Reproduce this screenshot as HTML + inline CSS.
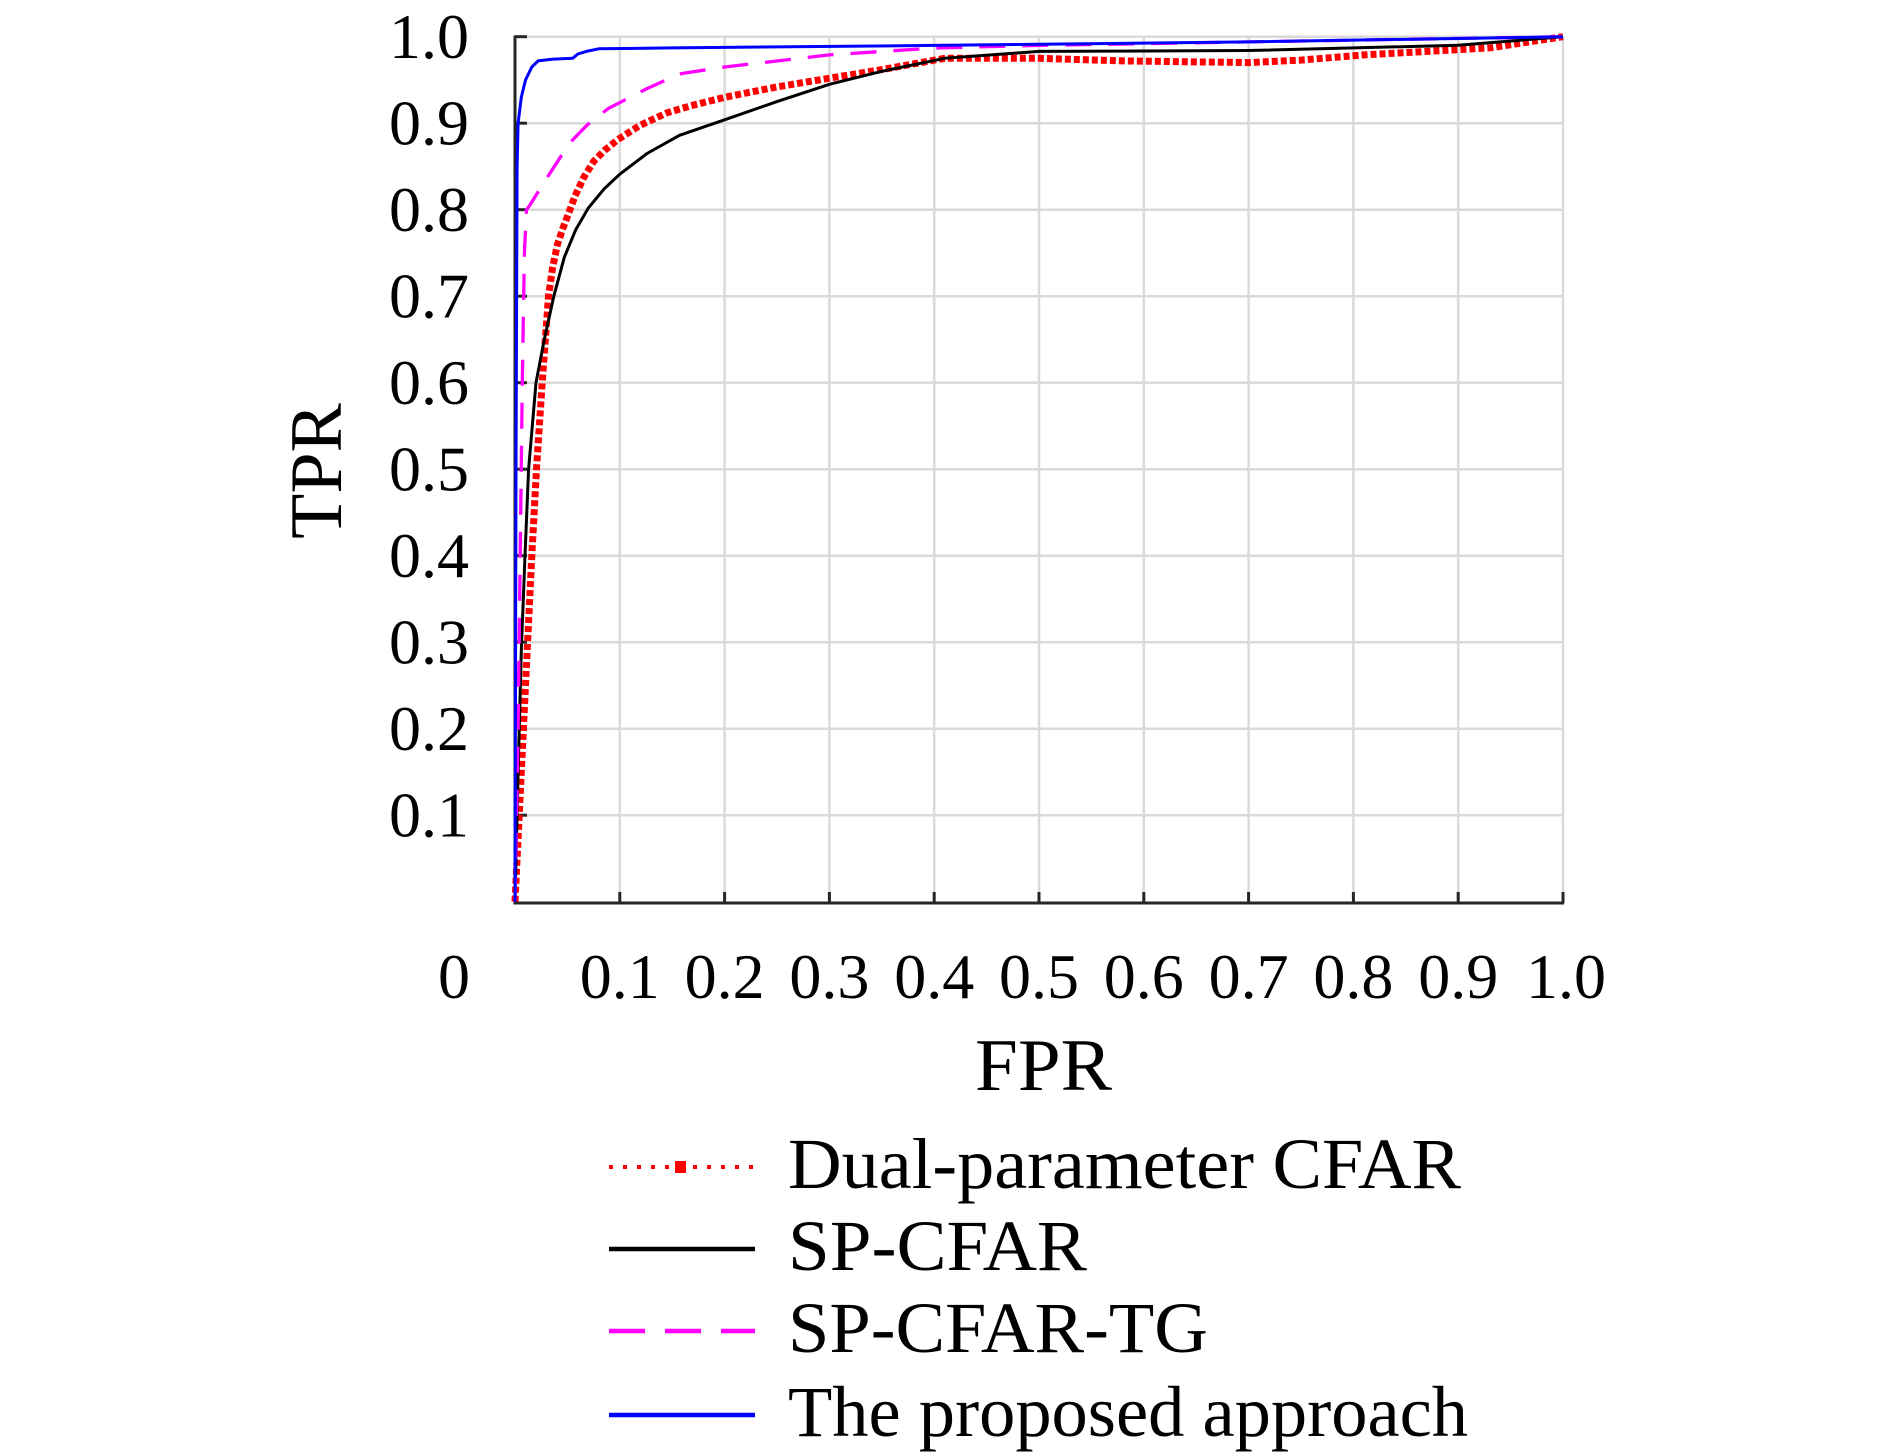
<!DOCTYPE html>
<html>
<head>
<meta charset="utf-8">
<style>
  html, body { margin: 0; padding: 0; background: #ffffff; }
  body { width: 1890px; height: 1454px; overflow: hidden; }
  svg { display: block; }
  text { font-family: "Liberation Serif", "DejaVu Serif", serif; fill: #000; }
</style>
</head>
<body>
<svg width="1890" height="1454" viewBox="0 0 1890 1454" xmlns="http://www.w3.org/2000/svg">
  <rect x="0" y="0" width="1890" height="1454" fill="#ffffff"/>

  <!-- grid lines -->
  <g stroke="#dadada" stroke-width="2.5" fill="none">
    <line x1="515" y1="36.7" x2="1563" y2="36.7"/>
    <line x1="515" y1="123.2" x2="1563" y2="123.2"/>
    <line x1="515" y1="209.7" x2="1563" y2="209.7"/>
    <line x1="515" y1="296.2" x2="1563" y2="296.2"/>
    <line x1="515" y1="382.7" x2="1563" y2="382.7"/>
    <line x1="515" y1="469.2" x2="1563" y2="469.2"/>
    <line x1="515" y1="555.7" x2="1563" y2="555.7"/>
    <line x1="515" y1="642.2" x2="1563" y2="642.2"/>
    <line x1="515" y1="728.7" x2="1563" y2="728.7"/>
    <line x1="515" y1="815.2" x2="1563" y2="815.2"/>
    <line x1="619.8" y1="36.7" x2="619.8" y2="903"/>
    <line x1="724.6" y1="36.7" x2="724.6" y2="903"/>
    <line x1="829.4" y1="36.7" x2="829.4" y2="903"/>
    <line x1="934.2" y1="36.7" x2="934.2" y2="903"/>
    <line x1="1039" y1="36.7" x2="1039" y2="903"/>
    <line x1="1143.8" y1="36.7" x2="1143.8" y2="903"/>
    <line x1="1248.6" y1="36.7" x2="1248.6" y2="903"/>
    <line x1="1353.4" y1="36.7" x2="1353.4" y2="903"/>
    <line x1="1458.2" y1="36.7" x2="1458.2" y2="903"/>
    <line x1="1563" y1="36.7" x2="1563" y2="903"/>
  </g>

  <!-- axes -->
  <g stroke="#262626" stroke-width="3" fill="none">
    <line x1="515" y1="35.5" x2="515" y2="904.5"/>
    <line x1="513.5" y1="903" x2="1564" y2="903"/>
    <line x1="515" y1="36.7" x2="527" y2="36.7"/>
    <line x1="515" y1="123.2" x2="527" y2="123.2"/>
    <line x1="515" y1="209.7" x2="527" y2="209.7"/>
    <line x1="515" y1="296.2" x2="527" y2="296.2"/>
    <line x1="515" y1="382.7" x2="527" y2="382.7"/>
    <line x1="515" y1="469.2" x2="527" y2="469.2"/>
    <line x1="515" y1="555.7" x2="527" y2="555.7"/>
    <line x1="515" y1="642.2" x2="527" y2="642.2"/>
    <line x1="515" y1="728.7" x2="527" y2="728.7"/>
    <line x1="515" y1="815.2" x2="527" y2="815.2"/>
    <line x1="619.8" y1="903" x2="619.8" y2="892"/>
    <line x1="724.6" y1="903" x2="724.6" y2="892"/>
    <line x1="829.4" y1="903" x2="829.4" y2="892"/>
    <line x1="934.2" y1="903" x2="934.2" y2="892"/>
    <line x1="1039" y1="903" x2="1039" y2="892"/>
    <line x1="1143.8" y1="903" x2="1143.8" y2="892"/>
    <line x1="1248.6" y1="903" x2="1248.6" y2="892"/>
    <line x1="1353.4" y1="903" x2="1353.4" y2="892"/>
    <line x1="1458.2" y1="903" x2="1458.2" y2="892"/>
    <line x1="1563" y1="903" x2="1563" y2="892"/>
  </g>

  <!-- series: Dual-parameter CFAR (red dotted) -->
  <polyline fill="none" stroke="#ff0000" stroke-width="7" stroke-dasharray="6 3" stroke-linejoin="round"
    points="515,901.7 519.2,815.2 523.4,728.7 527.6,642.2 531.8,555.7 536.5,469.2 542.2,382.7 548.5,296.2 552.5,268 557.5,244.3 563,228 568,215 575,196 584,177 593.6,161.5 605,150 618,139.5 639.7,125.5 667,112.8 690,106 724.6,97.3 777,86.9 829.4,78.2 881.8,69.6 944.7,58.3 1039,58.3 1122.8,60.9 1248.6,62.6 1301,60.1 1363.9,54.9 1489.6,47.9 1563,36.7"/>

  <!-- series: SP-CFAR (black solid) -->
  <polyline fill="none" stroke="#000000" stroke-width="3" stroke-linejoin="round"
    points="515,901.7 518.1,771.95 521.3,650.8 525,555.7 528.6,469.2 536,382.7 544.3,339.5 553.8,296.2 564.3,257.3 575.8,229.6 588.4,207.9 604.1,188.9 619.8,174.2 647,153.5 679.5,135.3 724.6,119.8 777,101.6 829.4,84.3 881.8,71.3 944.7,58.3 1039,51.4 1248.6,50.5 1458.2,45.3 1563,36.7"/>

  <!-- series: SP-CFAR-TG (magenta dashed) -->
  <polyline fill="none" stroke="#ff00ff" stroke-width="3.3" stroke-dasharray="26 17" stroke-linejoin="round"
    points="515,901.7 518.1,728.7 520.2,555.7 522.3,382.7 524.4,252.95 526.5,209.7 529.7,205.4 545.4,180.3 569.5,143.1 587.3,124.9 608.3,108.5 647,88.6 679.5,73.9 724.6,67 829.4,54.9 934.2,48 1039,45.4 1248.6,41.9 1563,36.7"/>

  <!-- series: The proposed approach (blue solid) -->
  <polyline fill="none" stroke="#0000ff" stroke-width="3" stroke-linejoin="round"
    points="515,901.7 516,469.2 517.1,166.5 518.1,123.2 521.3,97.3 525.5,80 531.8,67 538.1,60.9 551.7,59.2 572.6,58.3 577.9,54 586.3,51.4 598.8,48.8 672.2,47.9 934.2,45.4 1248.6,41.9 1563,36.7"/>

  <!-- y tick labels -->
  <g font-size="64" text-anchor="end">
    <text x="469" y="58.2">1.0</text>
    <text x="469" y="144.7">0.9</text>
    <text x="469" y="231.2">0.8</text>
    <text x="469" y="317.7">0.7</text>
    <text x="469" y="404.2">0.6</text>
    <text x="469" y="490.7">0.5</text>
    <text x="469" y="577.2">0.4</text>
    <text x="469" y="663.7">0.3</text>
    <text x="469" y="750.2">0.2</text>
    <text x="469" y="836.7">0.1</text>
  </g>

  <!-- x tick labels -->
  <g font-size="64" text-anchor="middle">
    <text x="454" y="998">0</text>
    <text x="619.8" y="998">0.1</text>
    <text x="724.6" y="998">0.2</text>
    <text x="829.4" y="998">0.3</text>
    <text x="934.2" y="998">0.4</text>
    <text x="1039" y="998">0.5</text>
    <text x="1143.8" y="998">0.6</text>
    <text x="1248.6" y="998">0.7</text>
    <text x="1353.4" y="998">0.8</text>
    <text x="1458.2" y="998">0.9</text>
    <text x="1566" y="998">1.0</text>
  </g>

  <!-- axis titles -->
  <text transform="translate(341,471) rotate(-90)" font-size="74" text-anchor="middle">TPR</text>
  <text x="975" y="1090" font-size="74" textLength="137" lengthAdjust="spacingAndGlyphs">FPR</text>

  <!-- legend -->
  <g>
    <line x1="609" y1="1167" x2="755" y2="1167" stroke="#ff0000" stroke-width="4" stroke-dasharray="4 10"/>
    <rect x="675" y="1161" width="11" height="12" fill="#ff0000"/>
    <line x1="609" y1="1249" x2="755" y2="1249" stroke="#000000" stroke-width="4.5"/>
    <line x1="609" y1="1331" x2="755" y2="1331" stroke="#ff00ff" stroke-width="4.5" stroke-dasharray="36 20"/>
    <line x1="609" y1="1415" x2="755" y2="1415" stroke="#0000ff" stroke-width="4.5"/>
  </g>
  <g font-size="72">
    <text x="788" y="1188" textLength="673" lengthAdjust="spacingAndGlyphs">Dual-parameter CFAR</text>
    <text x="788" y="1270" textLength="299" lengthAdjust="spacingAndGlyphs">SP-CFAR</text>
    <text x="788" y="1352" textLength="420" lengthAdjust="spacingAndGlyphs">SP-CFAR-TG</text>
    <text x="788" y="1436" textLength="680" lengthAdjust="spacingAndGlyphs">The proposed approach</text>
  </g>
</svg>
</body>
</html>
